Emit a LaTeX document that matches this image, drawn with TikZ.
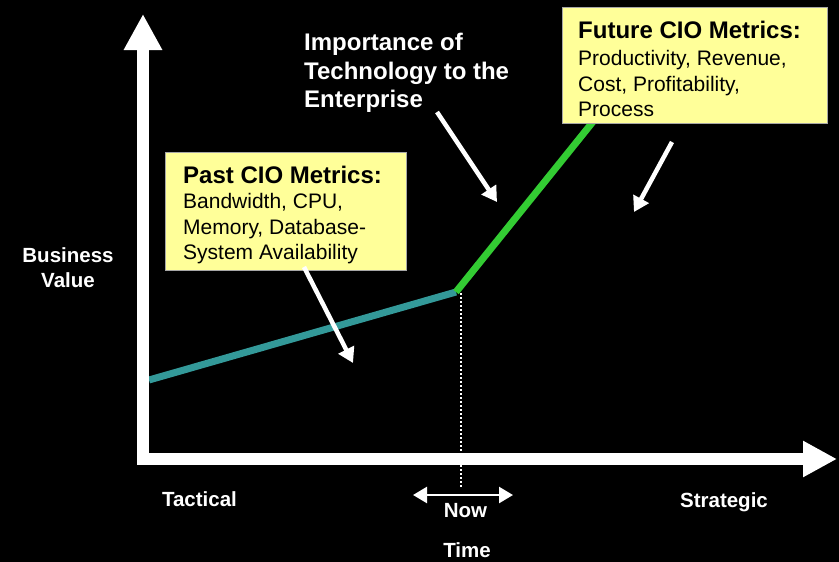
\documentclass[tikz,border=0pt]{standalone}
\usepackage{fontspec}
\setmainfont{Liberation Sans}
\usetikzlibrary{arrows.meta}
\definecolor{pastteal}{HTML}{339999}
\definecolor{futuregreen}{HTML}{33CC33}
\definecolor{notefill}{HTML}{FFFF99}
\begin{document}
\begin{tikzpicture}[x=1pt, y=-1pt,
	axis/.style={white, line width=12pt},
	pointer/.style={white, line width=4.5pt, -{Triangle[length=15pt, width=17pt]}},
	notebox/.style={draw=gray!70, fill=notefill, line width=1pt, inner sep=0, anchor=north west},
	headtext/.style={anchor=base west, inner sep=0, font=\fontsize{24}{28}\selectfont\bfseries},
	bodytext/.style={anchor=base west, inner sep=0, font=\fontsize{21}{25}\selectfont},
	labeltext/.style={anchor=base, inner sep=0, text=white, font=\fontsize{20.5}{25}\selectfont\bfseries}]
	% Background, curve, axes, notes and pointers:
	\fill[black] (0, 0) rectangle (839, 562);
	\useasboundingbox (0, 0) rectangle (839, 562);
	\coordinate (Start) at (149, 380);
	\coordinate (Now) at (456, 292);
	\coordinate (Peak) at (600, 113);
	\draw[pastteal, line width=7pt] (Start) -- (Now);
	\draw[futuregreen, line width=7pt] (Now) -- (Peak);
	\coordinate (NowTop) at (461, 293);
	\coordinate (NowBot) at (461, 487);
	\draw[white, line width=1.5pt, dash pattern=on 1.5pt off 2.5pt] (NowTop) -- (NowBot);
	\coordinate (YBot) at (143, 464.5);
	\coordinate (YTop) at (143, 14);
	\coordinate (XLeft) at (137, 459);
	\coordinate (XRight) at (837, 459);
	\draw[axis, -{Triangle[length=36pt, width=36pt]}] (YBot) -- (YTop);
	\draw[axis, -{Triangle[length=34pt, width=34pt]}] (XLeft) -- (XRight);
	\coordinate (SpanL) at (413, 495);
	\coordinate (SpanR) at (513, 495);
	\draw[white, line width=2.5pt, {Triangle[length=14pt, width=16pt]}-{Triangle[length=14pt, width=16pt]}] (SpanL) -- (SpanR);
	\node[labeltext] (LNow) at (465.5, 517) {Now};
	\node[labeltext] (LTime) at (467, 557) {Time};
	\node[labeltext] (LTactical) at (199.5, 506) {Tactical};
	\node[labeltext] (LStrategic) at (724, 507) {Strategic};
	\node[labeltext] (LBusiness) at (68, 262) {Business};
	\node[labeltext] (LValue) at (68, 287) {Value};
	\node[headtext, text=white] (Imp1) at (304, 50) {Importance of};
	\node[headtext, text=white] (Imp2) at (304, 79) {Technology to the};
	\node[headtext, text=white] (Imp3) at (304, 107) {Enterprise};
	\node[notebox, minimum width=241pt, minimum height=118pt] (PastBox) at (165, 152) {};
	\node[headtext] (Past1) at (183, 183) {Past CIO Metrics:};
	\node[bodytext] (Past2) at (183, 208) {Bandwidth, CPU,};
	\node[bodytext] (Past3) at (183, 234) {Memory, Database-};
	\node[bodytext] (Past4) at (183, 259) {System Availability};
	\node[notebox, minimum width=265pt, minimum height=116pt] (FutureBox) at (562, 7) {};
	\node[headtext] (Future1) at (578, 38) {Future CIO Metrics:};
	\node[bodytext] (Future2) at (578, 65) {Productivity, Revenue,};
	\node[bodytext] (Future3) at (578, 91) {Cost, Profitability,};
	\node[bodytext] (Future4) at (578, 116) {Process};
	\coordinate (ImpTail) at (437, 112);
	\coordinate (ImpTip) at (497, 202);
	\draw[pointer] (ImpTail) -- (ImpTip);
	\coordinate (PastTail) at (304, 267);
	\coordinate (PastTip) at (353, 363);
	\draw[pointer] (PastTail) -- (PastTip);
	\coordinate (FutureTail) at (672, 142);
	\coordinate (FutureTip) at (634, 212);
	\draw[pointer] (FutureTail) -- (FutureTip);
\end{tikzpicture}
\end{document}
